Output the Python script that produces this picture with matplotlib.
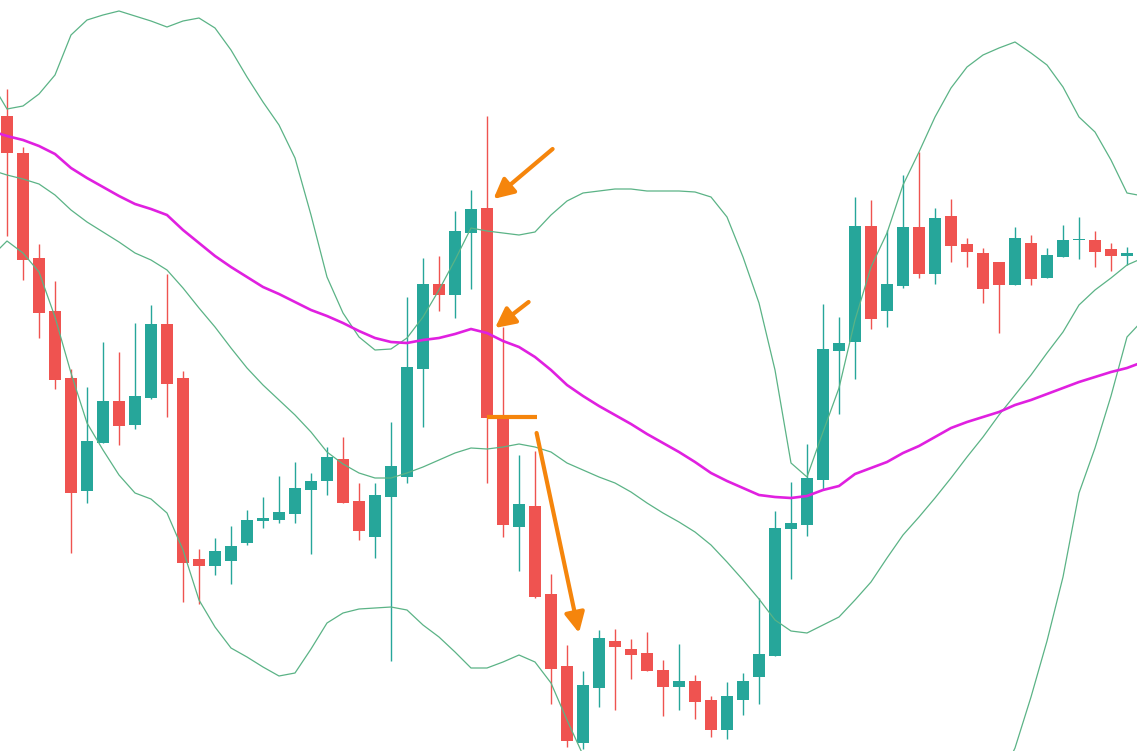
import matplotlib
matplotlib.use("Agg")
import matplotlib.pyplot as plt
import numpy as np

# ---- candle data (price units; higher = higher on chart) ----
opens = [635, 598, 493, 440, 373, 260, 308, 350, 326, 353, 427, 373, 192, 185, 190, 208, 230, 231, 237, 261,
         270, 292, 250, 214, 254, 274, 382, 467, 456, 518, 543, 333, 224, 245, 157, 85, 8, 63, 110, 102,
         98, 81, 64, 70, 51, 21, 51, 74, 95, 222, 226, 271, 400, 409, 525, 440, 465, 524, 477, 535,
         507, 498, 489, 466, 508, 473, 494, 511, 511, 502, 495]
highs = [662, 604, 507, 470, 382, 364, 409, 399, 428, 446, 477, 380, 202, 213, 225, 241, 254, 275, 289, 278,
         304, 314, 268, 268, 329, 454, 493, 495, 540, 561, 635, 424, 296, 300, 177, 106, 80, 121, 122, 112,
         119, 91, 107, 76, 55, 69, 78, 153, 240, 269, 307, 447, 434, 554, 551, 521, 576, 599, 543, 552,
         513, 503, 489, 524, 516, 503, 526, 534, 520, 508, 504]
lows = [515, 471, 413, 362, 198, 248, 308, 306, 322, 352, 334, 149, 147, 176, 167, 206, 223, 228, 228, 197,
        256, 248, 211, 193, 90, 268, 324, 440, 433, 462, 268, 214, 180, 153, 47, 4, 2, 44, 41, 72,
        80, 35, 41, 32, 14, 12, 36, 47, 95, 172, 215, 261, 337, 372, 422, 424, 463, 473, 467, 489,
        484, 448, 418, 466, 466, 473, 494, 492, 484, 480, 486]
closes = [598, 491, 438, 371, 258, 310, 350, 325, 355, 427, 367, 188, 185, 200, 205, 231, 233, 239, 263, 270,
          294, 248, 220, 256, 285, 384, 467, 456, 520, 542, 333, 226, 247, 154, 82, 10, 66, 113, 104, 96,
          80, 64, 70, 49, 21, 55, 70, 97, 223, 228, 273, 402, 408, 525, 432, 467, 524, 477, 533, 505,
          499, 462, 466, 513, 472, 496, 511, 512, 499, 495, 498]

# ---- indicator data, one point per bar from index -1 to 71 ----
band_upper = [669, 642, 645, 657, 676, 716, 731, 736, 740, 735, 730, 724, 730, 733, 723, 701, 674, 649, 626, 593,
              536, 474, 438, 414, 401, 402, 413, 434, 461, 491, 523, 520, 518, 516, 519, 536, 550, 558, 560, 562,
              562, 560, 560, 560, 559, 554, 534, 494, 448, 381, 288, 274, 319, 363, 431, 484, 518, 566, 599, 634,
              663, 684, 696, 703, 709, 698, 686, 664, 634, 619, 591, 558, 555]
band_mid = [581, 576, 572, 567, 556, 541, 529, 519, 509, 498, 491, 481, 463, 443, 424, 403, 383, 366, 351, 336,
            319, 299, 287, 278, 273, 273, 278, 284, 291, 298, 303, 302, 304, 307, 304, 299, 288, 281, 274, 268,
            259, 248, 238, 229, 219, 206, 189, 171, 152, 131, 120, 118, 126, 134, 151, 169, 193, 216, 234, 253,
            273, 294, 314, 336, 356, 376, 398, 419, 446, 461, 473, 486, 493]
band_lower = [494, 510, 498, 479, 434, 378, 328, 301, 276, 258, 252, 238, 201, 151, 124, 103, 94, 84, 75, 78,
              102, 128, 138, 142, 143, 144, 141, 126, 114, 99, 83, 83, 89, 96, 89, 68, 31, -4, -12, -26,
              -44, -64, -84, -102, -121, -142, -156, -152, -144, -119, -48, -38, -67, -95, -129, -146, -132, -134, -131, -128,
              -117, -96, -68, -31, 3, 54, 110, 174, 258, 303, 355, 414, 431]
ma_line = [620, 615, 611, 605, 597, 583, 573, 564, 555, 547, 542, 536, 521, 508, 495, 484, 474, 464, 457, 449,
           441, 435, 428, 420, 413, 409, 408, 411, 413, 417, 422, 418, 410, 404, 394, 381, 366, 355, 345, 336,
           327, 317, 308, 299, 289, 278, 270, 263, 256, 254, 253, 255, 261, 265, 277, 283, 289, 298, 305, 314,
           323, 329, 334, 339, 346, 351, 357, 363, 369, 374, 379, 383, 389]

# ---- annotation anchors (bar index, price) ----
arrows = [((34.1, 602), (30.4, 552)),
          ((32.6, 449), (30.5, 423)),
          ((33.1, 318), (35.75, 118))]
level_line = ((30.0, 33.1), 334)

UP = "#26A69A"
DOWN = "#EF5350"
BAND = "#5BB386"
MA = "#E020E0"
ORANGE = "#F5850C"

o = np.array(opens, float)
h = np.array(highs, float)
l = np.array(lows, float)
c = np.array(closes, float)
xb = np.arange(len(o))
cols = [UP if cc >= oo else DOWN for oo, cc in zip(o, c)]

fig = plt.figure(figsize=(11.37, 7.51), dpi=100)
ax = fig.add_axes([0, 0, 1, 1])
ax.set_axis_off()

ax.vlines(xb, l, h, colors=cols, linewidth=1.0, zorder=1)
body = np.where(np.abs(c - o) < 1, np.sign(c - o + 1e-9) * 1.0, c - o)
ax.bar(xb, body, bottom=o, width=0.69, color=cols, linewidth=0, zorder=2)

xi = np.arange(-1, len(band_mid) - 1)
ax.plot(xi, band_upper, color=BAND, lw=0.9, zorder=3)
ax.plot(xi, band_mid, color=BAND, lw=0.9, zorder=3)
ax.plot(xi, band_lower, color=BAND, lw=0.9, zorder=3)
ax.plot(xi, ma_line, color=MA, lw=1.9, zorder=4, solid_joinstyle="round")

for (x0, y0), (x1, y1) in arrows:
    ax.annotate("", xy=(x1, y1), xytext=(x0, y0),
                arrowprops=dict(arrowstyle="-|>,head_length=0.6,head_width=0.3",
                                color=ORANGE, lw=3.0, shrinkA=0, shrinkB=0,
                                mutation_scale=20),
                zorder=5)
(lx0, lx1), ly = level_line
ax.plot([lx0, lx1], [ly, ly], color=ORANGE, lw=3.0, solid_capstyle="butt", zorder=5)

ax.set_xlim(-0.4375, 70.625)
ax.set_ylim(0, 751)
fig.savefig("out.png", dpi=100, facecolor="white")
